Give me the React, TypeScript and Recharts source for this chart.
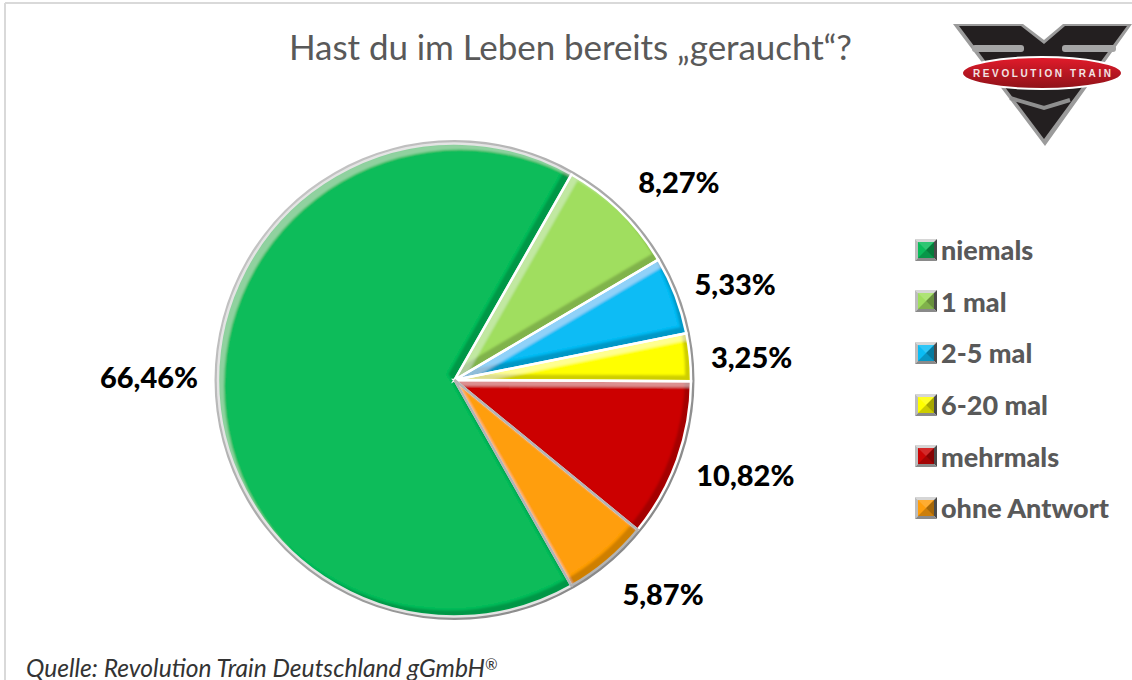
import React from 'react';
import { PieChart, Pie, Cell, Legend } from 'recharts';

const categories = ['niemals', '1 mal', '2-5 mal', '6-20 mal', 'mehrmals', 'ohne Antwort'];
const shares = [66.46, 8.27, 5.33, 3.25, 10.82, 5.87];
const colors = ['#0abc5a', '#a0de5e', '#0bbcf5', '#ffff00', '#cc0505', '#ff9e0d'];
const edgeColors = ['#e4e4e4', '#ffffff', '#ffffff', '#ffffff', '#ffffff', '#b4b4b4'];
// hand placed labels, same as in the original slide
const labelNudgeX = [-7, 15, 2, 0, 10, 16];
const labelNudgeY = [-3, 14, 10, 5, -7, -15];

const data = categories.map((name, i) => ({ name, value: shares[i] }));
const rimData = [{ name: 'rim', value: 1 }];

const CX = 454.5;
const CY = 380;
const START = -60.4;
const FONT = 'Lato, "Open Sans", sans-serif';
const RADIAN = Math.PI / 180;

const formatShare = (v: number) => v.toFixed(2).replace('.', ',') + '%';

const renderLabel = (props: any) => {
  const { midAngle, outerRadius, index } = props;
  const r = outerRadius + 62;
  const x = CX + r * Math.cos(-midAngle * RADIAN) + labelNudgeX[index];
  const y = CY + r * Math.sin(-midAngle * RADIAN) + labelNudgeY[index];
  return (
    <text x={x} y={y} textAnchor="middle" dominantBaseline="central" fontFamily={FONT} fontWeight={900} fontSize={29} fill="#000">
      {formatShare(shares[index])}
    </text>
  );
};

const LegendIcon = ({ color }: { color: string }) => (
  <svg width={22} height={22} style={{ flex: 'none' }}>
    <polygon points="0,0 22,0 19,3 3,3" fill="#d6d6d6" />
    <polygon points="0,0 3,3 3,19 0,22" fill="#bdbdbd" />
    <polygon points="22,0 22,22 19,19 19,3" fill="#4a4a4a" />
    <polygon points="0,22 22,22 19,19 3,19" fill="#8a8a8a" />
    <rect x={3} y={3} width={16} height={16} fill={color} />
    <polygon points="19,3 19,19 11,11" fill="#000" opacity={0.35} />
    <polygon points="3,19 19,19 11,11" fill="#000" opacity={0.2} />
    <polygon points="3,3 19,3 11,11" fill="#fff" opacity={0.15} />
  </svg>
);

const renderLegend = () => (
  <div style={{ fontFamily: FONT, fontWeight: 900, fontSize: 27, color: '#595959' }}>
    {categories.map((name, i) => (
      <div key={name} style={{ display: 'flex', alignItems: 'center', height: 51.6, gap: 4 }}>
        <LegendIcon color={colors[i]} />
        <span>{name}</span>
      </div>
    ))}
  </div>
);

const Logo = () => (
  <g>
    <polygon points="953,24 1023,24 1044,40 1063,24 1132,24 1045,146" fill="#9b9b9b" />
    <polygon points="959,26 1021,26 1044,44 1065,26 1127,26 1044,139" fill="#231f20" />
    <rect x="972" y="45" width="52" height="7" rx="3" fill="#a5a5a5" />
    <rect x="1062" y="45" width="54" height="7" rx="3" fill="#a5a5a5" />
    <polyline points="1010,98 1044,108 1070,100" fill="none" stroke="#8f8f8f" strokeWidth={4} />
    <ellipse cx={1042} cy={73} rx={80} ry={16} fill="url(#logoRed)" stroke="#fff" strokeWidth={2} />
    <text x={1042} y={77} textAnchor="middle" fontFamily="Liberation Sans, sans-serif" fontWeight={700} fontSize={10} textLength={138} fill="#f2e4e4">
      REVOLUTION  TRAIN
    </text>
  </g>
);

export default function App() {
  return (
    <div style={{ position: 'absolute', left: 0, top: 0, width: 1132, height: 680, overflow: 'hidden', background: '#fff' }}>
      <PieChart width={1132} height={680} margin={{ top: 0, right: 0, bottom: 0, left: 0 }}>
        <defs>
          <filter id="bevel" x="-5%" y="-5%" width="110%" height="110%">
            <feOffset in="SourceAlpha" dx={-6} dy={-6} result="offDark" />
            <feComposite in="SourceAlpha" in2="offDark" operator="out" result="edgeDark" />
            <feGaussianBlur in="edgeDark" stdDeviation={1.2} result="blurDark" />
            <feComposite in="blurDark" in2="SourceAlpha" operator="in" result="clipDark" />
            <feFlood floodColor="#000" floodOpacity={0.38} />
            <feComposite in2="clipDark" operator="in" result="dark" />
            <feOffset in="SourceAlpha" dx={6} dy={6} result="offLight" />
            <feComposite in="SourceAlpha" in2="offLight" operator="out" result="edgeLight" />
            <feGaussianBlur in="edgeLight" stdDeviation={1.2} result="blurLight" />
            <feComposite in="blurLight" in2="SourceAlpha" operator="in" result="clipLight" />
            <feFlood floodColor="#fff" floodOpacity={0.28} />
            <feComposite in2="clipLight" operator="in" result="light" />
            <feMerge>
              <feMergeNode in="SourceGraphic" />
              <feMergeNode in="dark" />
              <feMergeNode in="light" />
            </feMerge>
          </filter>
          <linearGradient id="rim" x1="0" y1="0" x2="1" y2="1">
            <stop offset="0%" stopColor="#d0d0d0" />
            <stop offset="100%" stopColor="#7d7d7d" />
          </linearGradient>
          <linearGradient id="logoRed" x1="0" y1="0" x2="0" y2="1">
            <stop offset="0%" stopColor="#e31b2b" />
            <stop offset="100%" stopColor="#8e1219" />
          </linearGradient>
        </defs>

        <line x1={5} y1={3} x2={1132} y2={3} stroke="#d9d9d9" strokeWidth={2} />
        <line x1={5} y1={3} x2={5} y2={680} stroke="#d9d9d9" strokeWidth={2} />

        <text x={289} y={60} fontFamily={FONT} fontSize={35} textLength={563} fill="#595959">
          Hast du im Leben bereits „geraucht“?
        </text>

        <Pie
          data={rimData}
          dataKey="value"
          cx={CX}
          cy={CY}
          outerRadius={240}
          fill="url(#rim)"
          stroke="none"
          legendType="none"
          isAnimationActive={false}
        />
        <Pie
          data={data}
          dataKey="value"
          nameKey="name"
          cx={CX}
          cy={CY}
          outerRadius={236.5}
          startAngle={START}
          endAngle={START - 360}
          stroke="none"
          label={renderLabel}
          labelLine={false}
          isAnimationActive={false}
        >
          {data.map((entry, index) => (
            <Cell key={`cell-${index}`} fill={colors[index]} filter="url(#bevel)" />
          ))}
        </Pie>
        <Pie
          data={data}
          dataKey="value"
          cx={CX}
          cy={CY}
          outerRadius={236.5}
          startAngle={START}
          endAngle={START - 360}
          fill="none"
          legendType="none"
          isAnimationActive={false}
        >
          {data.map((entry, index) => (
            <Cell key={`edge-${index}`} fill="none" stroke={edgeColors[index]} strokeWidth={2.5} />
          ))}
        </Pie>

        <Legend content={renderLegend} layout="vertical" wrapperStyle={{ position: 'absolute', left: 915, top: 224, width: 217, bottom: 'auto' }} />

        <Logo />

        <text x={26} y={677} fontFamily={FONT} fontStyle="italic" fontSize={24.6} fill="#333">
          Quelle: Revolution Train Deutschland gGmbH
          <tspan fontSize={15} dy={-7}>®</tspan>
        </text>
      </PieChart>
    </div>
  );
}
